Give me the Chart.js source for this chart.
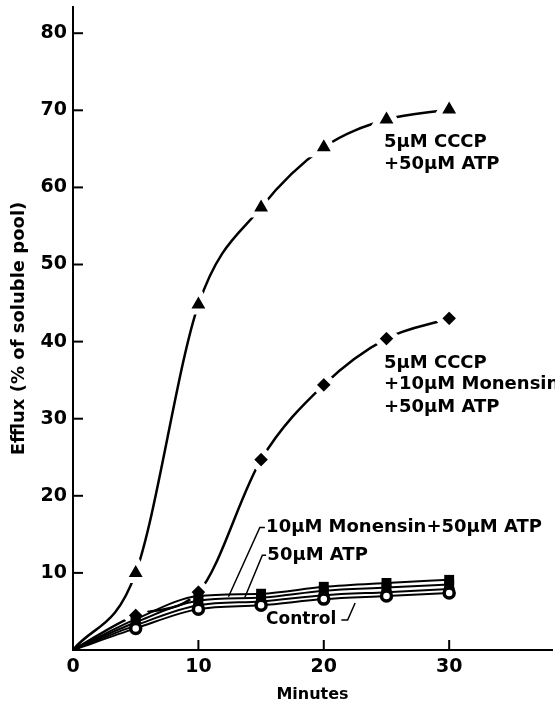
<!DOCTYPE html>
<html>
<head>
<meta charset="utf-8">
<script src="https://cdn.jsdelivr.net/npm/chart.js@4.4.0/dist/chart.umd.min.js"></script>
<style>
  html, body { margin: 0; padding: 0; background: #fff; }
</style>
</head>
<body>
<canvas id="efflux-chart" width="555" height="706"></canvas>
<script>
// sampling times (min) and efflux values (% of soluble pool)
var minutes = [0, 5, 10, 15, 20, 25, 30];
var cccpAtp = [0, 10, 44.8, 57.4, 65.2, 68.8, 70.1];
var cccpMonensinAtp = [0, 4.5, 7.5, 24.7, 34.4, 40.4, 43.0];
var monensinAtp = [0, 4.0, 7.0, 7.3, 8.2, 8.7, 9.1];
var atpOnly = [0, 3.6, 6.4, 6.8, 7.7, 8.1, 8.5];
var monensinOnly = [0, 3.2, 5.8, 6.3, 7.1, 7.5, 7.9];
var control = [0, 2.8, 5.3, 5.8, 6.6, 7.0, 7.4];

var xTicks = [0, 10, 20, 30];
var yTicks = [10, 20, 30, 40, 50, 60, 70, 80];

function toPoints(values) {
    return values.map(function (v, i) { return { x: minutes[i], y: v }; });
}

// no marker at the origin
function markerSize(size) {
    return function (ctx) { return ctx.dataIndex === 0 ? 0 : size; };
}

Chart.defaults.font.family = "'DejaVu Sans', sans-serif";
Chart.defaults.color = '#000';

// tick marks pointing into the plot, curve labels and their leader lines
var annotations = {
    id: 'annotations',
    afterDraw: function (chart) {
        var ctx = chart.ctx;
        var xs = chart.scales.x, ys = chart.scales.y;
        var area = chart.chartArea;
        ctx.save();
        ctx.strokeStyle = '#000';
        ctx.lineWidth = 2;
        xTicks.forEach(function (v) {
            if (v === 0) return;
            var px = xs.getPixelForValue(v);
            ctx.beginPath();
            ctx.moveTo(px, area.bottom);
            ctx.lineTo(px, area.bottom - 10);
            ctx.stroke();
        });
        yTicks.forEach(function (v) {
            var py = ys.getPixelForValue(v);
            ctx.beginPath();
            ctx.moveTo(area.left, py);
            ctx.lineTo(area.left + 10, py);
            ctx.stroke();
        });

        function text(str, x, y) {
            ctx.fillText(str, xs.getPixelForValue(x), ys.getPixelForValue(y));
        }
        function leader(pts) {
            ctx.beginPath();
            pts.forEach(function (p, i) {
                var px = xs.getPixelForValue(p[0]), py = ys.getPixelForValue(p[1]);
                if (i === 0) ctx.moveTo(px, py); else ctx.lineTo(px, py);
            });
            ctx.stroke();
        }

        ctx.fillStyle = '#000';
        ctx.font = "bold 18px 'DejaVu Sans', sans-serif";
        ctx.textAlign = 'left';
        ctx.textBaseline = 'middle';

        text('5\u03bcM CCCP', 24.8, 65.9);
        text('+50\u03bcM ATP', 24.8, 63.0);

        text('5\u03bcM CCCP', 24.8, 37.2);
        text('+10\u03bcM Monensin', 24.8, 34.4);
        text('+50\u03bcM ATP', 24.8, 31.5);

        text('10\u03bcM Monensin+50\u03bcM ATP', 15.4, 15.9);
        text('50\u03bcM ATP', 15.5, 12.3);
        ctx.font = "bold 17px 'DejaVu Sans', sans-serif";
        text('Control', 15.4, 3.9);

        ctx.lineWidth = 1.5;
        leader([[15.3, 15.9], [14.9, 15.9], [12.4, 6.9]]);
        leader([[15.4, 12.3], [15.1, 12.3], [13.7, 6.8]]);
        leader([[21.4, 3.9], [21.9, 3.9], [22.5, 6.1]]);
        ctx.restore();
    }
};

var ctx = document.getElementById('efflux-chart').getContext('2d');
var effluxChart = new Chart(ctx, {
    type: 'line',
    data: {
        datasets: [{
            label: 'Control',
            data: toPoints(control),
            borderColor: '#000',
            borderWidth: 2,
            pointStyle: 'circle',
            pointRadius: markerSize(5),
            pointBackgroundColor: '#fff',
            pointBorderColor: '#000',
            pointBorderWidth: 3.5,
            cubicInterpolationMode: 'monotone'
        }, {
            label: '10 uM Monensin',
            data: toPoints(monensinOnly),
            borderColor: '#000',
            borderWidth: 2,
            pointStyle: 'circle',
            pointRadius: markerSize(5.5),
            pointBackgroundColor: '#000',
            pointBorderColor: '#000',
            pointBorderWidth: 0,
            cubicInterpolationMode: 'monotone'
        }, {
            label: '50 uM ATP',
            data: toPoints(atpOnly),
            borderColor: '#000',
            borderWidth: 2,
            pointStyle: 'rect',
            pointRadius: markerSize(7),
            pointBackgroundColor: '#000',
            pointBorderColor: '#000',
            pointBorderWidth: 0,
            cubicInterpolationMode: 'monotone'
        }, {
            label: '10 uM Monensin + 50 uM ATP',
            data: toPoints(monensinAtp),
            borderColor: '#000',
            borderWidth: 2,
            pointStyle: 'rect',
            pointRadius: markerSize(7),
            pointBackgroundColor: '#000',
            pointBorderColor: '#000',
            pointBorderWidth: 0,
            cubicInterpolationMode: 'monotone'
        }, {
            label: '5 uM CCCP + 10 uM Monensin + 50 uM ATP',
            data: toPoints(cccpMonensinAtp),
            borderColor: '#000',
            borderWidth: 2.5,
            pointStyle: 'rectRot',
            pointRadius: markerSize(11),
            pointBackgroundColor: '#000',
            pointBorderColor: '#fff',
            pointBorderWidth: 6,
            cubicInterpolationMode: 'monotone'
        }, {
            label: '5 uM CCCP + 50 uM ATP',
            data: toPoints(cccpAtp),
            borderColor: '#000',
            borderWidth: 2.5,
            pointStyle: 'triangle',
            pointRadius: markerSize(14),
            pointBackgroundColor: '#000',
            pointBorderColor: '#fff',
            pointBorderWidth: 6,
            cubicInterpolationMode: 'monotone'
        }]
    },
    options: {
        responsive: false,
        animation: false,
        layout: { autoPadding: false, padding: { top: 7, right: 3, left: 0, bottom: 0 } },
        plugins: {
            legend: { display: false },
            tooltip: { enabled: false }
        },
        scales: {
            x: {
                type: 'linear',
                min: 0,
                max: 38.2,
                afterBuildTicks: function (scale) {
                    scale.ticks = xTicks.map(function (v) { return { value: v }; });
                },
                afterFit: function (scale) {
                    scale.height = 56;
                    scale.paddingLeft = 0;
                    scale.paddingRight = 0;
                },
                grid: { display: false, drawTicks: false },
                border: { display: true, color: '#000', width: 2 },
                ticks: { padding: 6, font: { size: 19, weight: 'bold' }, color: '#000' },
                title: {
                    display: true,
                    text: 'Minutes',
                    font: { size: 16, weight: 'bold' },
                    padding: { top: 0, bottom: 2 }
                }
            },
            y: {
                min: 0,
                max: 83.4,
                afterBuildTicks: function (scale) {
                    scale.ticks = yTicks.map(function (v) { return { value: v }; });
                },
                afterFit: function (scale) {
                    scale.width = 73;
                    scale.paddingTop = 0;
                    scale.paddingBottom = 0;
                },
                grid: { display: false, drawTicks: false },
                border: { display: true, color: '#000', width: 2 },
                ticks: { padding: 6, font: { size: 19, weight: 'bold' }, color: '#000' },
                title: {
                    display: true,
                    text: 'Efflux (% of soluble pool)',
                    font: { size: 18, weight: 'bold' },
                    padding: { top: 9, bottom: 0 }
                }
            }
        }
    },
    plugins: [annotations]
});
</script>
</body>
</html>
